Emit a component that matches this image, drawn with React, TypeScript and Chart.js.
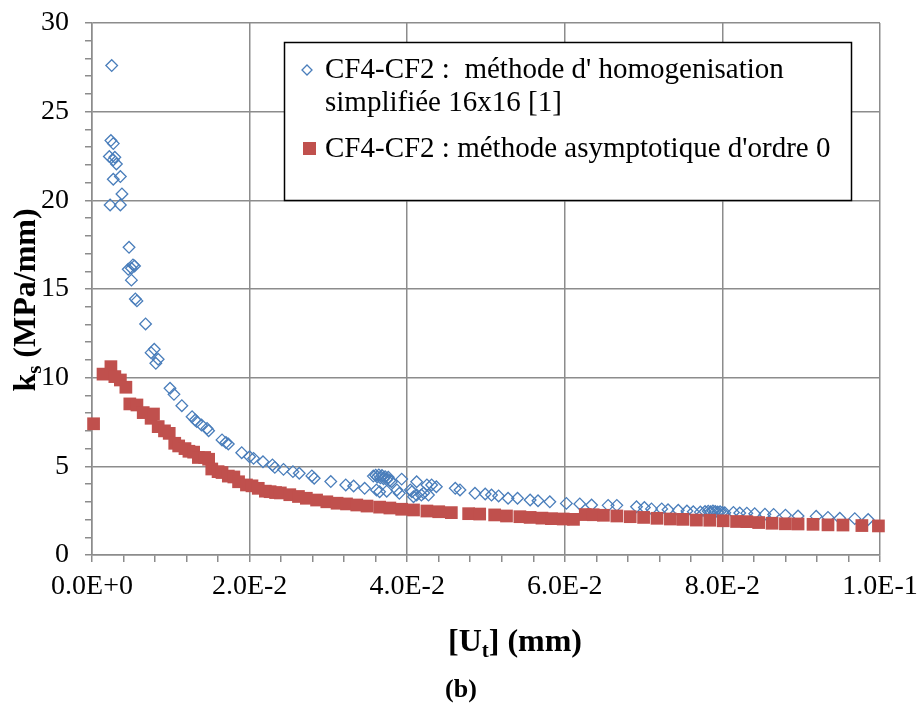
import React, { useEffect, useRef } from "react";
import { Chart, registerables } from "chart.js";

Chart.register(...registerables);

// Série 1 : méthode d'homogénisation simplifiée 16x16 (losanges bleus)
const homogX = [
  0.0023, 0.0022, 0.0024, 0.0025, 0.0027, 0.0027, 0.0027, 0.0029, 0.0031, 0.0036, 0.0036, 0.0038,
  0.0046, 0.0047, 0.0050, 0.0050, 0.0052, 0.0054, 0.0055, 0.0057, 0.0068, 0.0075, 0.0079, 0.0081,
  0.0084, 0.0099, 0.0104, 0.0114, 0.0127, 0.0131, 0.0133, 0.0139, 0.0146, 0.0148, 0.0165, 0.0170,
  0.0173, 0.0190, 0.0200, 0.0205, 0.0217, 0.0229, 0.0232, 0.0243, 0.0255, 0.0263, 0.0279, 0.0282,
  0.0303, 0.0322, 0.0332, 0.0346, 0.0361, 0.0357, 0.0360, 0.0362, 0.0364, 0.0366, 0.0368, 0.0370,
  0.0372, 0.0374, 0.0376, 0.0378, 0.0365, 0.0374, 0.0380, 0.0387, 0.0390, 0.0393, 0.0404, 0.0406,
  0.0408, 0.0412, 0.0412, 0.0418, 0.0421, 0.0425, 0.0427, 0.0431, 0.0437, 0.0461, 0.0467, 0.0486,
  0.0499, 0.0507, 0.0516, 0.0528, 0.0540, 0.0556, 0.0566, 0.0581, 0.0602, 0.0619, 0.0634, 0.0655,
  0.0666, 0.0691, 0.0701, 0.0710, 0.0723, 0.0731, 0.0744, 0.0755, 0.0763, 0.0772, 0.0778, 0.0782,
  0.0785, 0.0788, 0.0791, 0.0794, 0.0797, 0.0800, 0.0803, 0.0814, 0.0822, 0.0831, 0.0841, 0.0854,
  0.0865, 0.0880, 0.0896, 0.0919, 0.0934, 0.0949, 0.0968, 0.0985,
];
const homogY = [
  19.74, 22.47, 23.37, 27.6, 23.2, 22.28, 21.19, 22.43, 22.05, 21.34, 19.74, 20.36,
  16.11, 17.35, 16.17, 15.5, 16.36, 16.3, 14.44, 14.33, 13.03, 11.41, 11.6, 10.81,
  11.04, 9.4, 9.06, 8.42, 7.8, 7.61, 7.52, 7.33, 7.14, 7.01, 6.49, 6.34,
  6.26, 5.77, 5.54, 5.45, 5.26, 5.08, 4.94, 4.83, 4.7, 4.61, 4.46, 4.33,
  4.14, 3.95, 3.89, 3.76, 3.67, 4.45, 4.5, 4.4, 4.52, 4.35, 4.48, 4.3,
  4.42, 4.25, 4.38, 4.2, 3.57, 3.6, 4.13, 3.67, 3.48, 4.28, 3.67, 3.57,
  3.29, 4.13, 3.38, 3.38, 3.5, 3.95, 3.38, 3.95, 3.85, 3.76, 3.67, 3.48,
  3.44, 3.38, 3.33, 3.2, 3.2, 3.1, 3.06, 3.0, 2.91, 2.88, 2.82, 2.8,
  2.8, 2.72, 2.68, 2.6, 2.6, 2.55, 2.52, 2.48, 2.44, 2.42, 2.45, 2.47,
  2.44, 2.48, 2.45, 2.42, 2.44, 2.4, 2.38, 2.4, 2.37, 2.36, 2.33, 2.3,
  2.29, 2.25, 2.2, 2.18, 2.12, 2.07, 2.05, 2.0,
];

// Série 2 : méthode asymptotique d'ordre 0 (carrés rouges)
const asympX = [
  0.0002, 0.0014, 0.0024, 0.0029, 0.0036, 0.0043, 0.0048, 0.0057, 0.0065, 0.0075, 0.0078, 0.0084,
  0.0092, 0.0098, 0.0105, 0.0110, 0.0118, 0.0123, 0.0129, 0.0135, 0.0143, 0.0148, 0.0152, 0.0160,
  0.0165, 0.0173, 0.0180, 0.0186, 0.0196, 0.0203, 0.0211, 0.0220, 0.0226, 0.0233, 0.0239, 0.0251,
  0.0262, 0.0272, 0.0285, 0.0298, 0.0311, 0.0323, 0.0336, 0.0349, 0.0365, 0.0378, 0.0393, 0.0408,
  0.0425, 0.0440, 0.0456, 0.0478, 0.0492, 0.0511, 0.0526, 0.0543, 0.0556, 0.0571, 0.0583, 0.0598,
  0.0611, 0.0626, 0.0636, 0.0649, 0.0666, 0.0683, 0.0700, 0.0717, 0.0734, 0.0750, 0.0767, 0.0784,
  0.0801, 0.0818, 0.0831, 0.0846, 0.0863, 0.0880, 0.0896, 0.0915, 0.0934, 0.0953, 0.0977, 0.0998,
];
const asympY = [
  7.4, 10.2, 10.62, 10.06, 9.87, 9.46, 8.52, 8.46, 8.03, 7.71, 7.95, 7.24,
  7.0, 6.86, 6.3, 6.15, 6.0, 5.85, 5.8, 5.5, 5.5, 5.4, 4.85, 4.7,
  4.65, 4.45, 4.4, 4.13, 3.95, 3.9, 3.76, 3.6, 3.57, 3.52, 3.5, 3.4,
  3.3, 3.2, 3.1, 3.0, 2.92, 2.88, 2.82, 2.76, 2.7, 2.65, 2.58, 2.54,
  2.48, 2.44, 2.39, 2.33, 2.31, 2.26, 2.2, 2.16, 2.12, 2.08, 2.05, 2.03,
  2.01, 2.28, 2.27, 2.24, 2.2, 2.16, 2.12, 2.07, 2.03, 2.01, 1.97, 1.96,
  1.93, 1.89, 1.88, 1.83, 1.79, 1.76, 1.75, 1.73, 1.7, 1.69, 1.66, 1.64,
];

const xTickLabels = ["0.0E+0", "2.0E-2", "4.0E-2", "6.0E-2", "8.0E-2", "1.0E-1"];
const yTickLabels = ["0", "5", "10", "15", "20", "25", "30"];
const homogLegend = ["CF4-CF2 :  méthode d' homogenisation", "simplifiée 16x16 [1]"];
const asympLegend = ["CF4-CF2 : méthode asymptotique d'ordre 0"];
const yTitleParts = ["k", "s", " (MPa/mm)"];
const xTitleParts = ["[U", "t", "] (mm)"];
const caption = "(b)";

const BLUE = "#4a7ebb";
const RED = "#c0504d";
const GRID = "#8c8c8c";
const SERIF = '"Liberation Serif", "Times New Roman", serif';

const decorPlugin = {
  id: "decor",
  afterDraw(chart: any) {
    const ctx: CanvasRenderingContext2D = chart.ctx;
    ctx.save();
    // Legend box
    const lx = 284, ly = 42, lw = 567, lh = 158;
    ctx.fillStyle = "#ffffff";
    ctx.fillRect(lx, ly, lw, lh);
    ctx.strokeStyle = "#000000";
    ctx.lineWidth = 1.5;
    ctx.strokeRect(lx + 0.5, ly + 0.5, lw, lh);
    // diamond marker
    ctx.strokeStyle = BLUE;
    ctx.lineWidth = 1.3;
    ctx.beginPath();
    ctx.moveTo(307, 65);
    ctx.lineTo(312, 70);
    ctx.lineTo(307, 75);
    ctx.lineTo(302, 70);
    ctx.closePath();
    ctx.stroke();
    // square marker
    ctx.fillStyle = RED;
    ctx.fillRect(303, 142, 13, 13);
    ctx.fillStyle = "#000000";
    ctx.font = `29px ${SERIF}`;
    ctx.textAlign = "left";
    ctx.textBaseline = "middle";
    ctx.fillText(homogLegend[0], 325, 70);
    ctx.fillText(homogLegend[1], 325, 103);
    ctx.fillText(asympLegend[0], 325, 149);

    // Y title (rotated)
    ctx.save();
    ctx.translate(24, 300);
    ctx.rotate(-Math.PI / 2);
    const big = `bold 32px ${SERIF}`;
    const small = `bold 21px ${SERIF}`;
    ctx.font = big;
    const w0 = ctx.measureText(yTitleParts[0]).width;
    const w2 = ctx.measureText(yTitleParts[2]).width;
    ctx.font = small;
    const w1 = ctx.measureText(yTitleParts[1]).width;
    let x = -(w0 + w1 + w2) / 2;
    ctx.textAlign = "left";
    ctx.textBaseline = "alphabetic";
    ctx.font = big;
    ctx.fillText(yTitleParts[0], x, 11);
    x += w0;
    ctx.font = small;
    ctx.fillText(yTitleParts[1], x, 17);
    x += w1;
    ctx.font = big;
    ctx.fillText(yTitleParts[2], x, 11);
    ctx.restore();

    // X title
    ctx.font = big;
    const a0 = ctx.measureText(xTitleParts[0]).width;
    const a2 = ctx.measureText(xTitleParts[2]).width;
    ctx.font = small;
    const a1 = ctx.measureText(xTitleParts[1]).width;
    let xx = 515 - (a0 + a1 + a2) / 2;
    ctx.textAlign = "left";
    ctx.textBaseline = "alphabetic";
    ctx.font = big;
    ctx.fillText(xTitleParts[0], xx, 651);
    xx += a0;
    ctx.font = small;
    ctx.fillText(xTitleParts[1], xx, 657);
    xx += a1;
    ctx.font = big;
    ctx.fillText(xTitleParts[2], xx, 651);

    // caption
    ctx.font = `bold 26px ${SERIF}`;
    ctx.textAlign = "center";
    ctx.textBaseline = "middle";
    ctx.fillText(caption, 461, 690);
    ctx.restore();
  },
};

export default function App() {
  const canvasRef = useRef<HTMLCanvasElement | null>(null);

  useEffect(() => {
    if (!canvasRef.current) return;
    const homogData = homogX.map((x, i) => ({ x, y: homogY[i] }));
    const asympData = asympX.map((x, i) => ({ x, y: asympY[i] }));
    const chart = new Chart(canvasRef.current, {
      type: "scatter",
      data: {
        datasets: [
          {
            label: asympLegend[0],
            data: asympData,
            pointStyle: "rect",
            pointRadius: 9,
            pointHoverRadius: 9,
            backgroundColor: RED,
            borderColor: RED,
            borderWidth: 0,
            showLine: false,
            clip: false,
          },
          {
            label: homogLegend.join(" "),
            data: homogData,
            pointStyle: "rectRot",
            pointRadius: 5.8,
            pointHoverRadius: 5.8,
            backgroundColor: "rgba(0,0,0,0)",
            borderColor: BLUE,
            borderWidth: 1.3,
            showLine: false,
            clip: false,
          },
        ],
      },
      options: {
        responsive: false,
        animation: false,
        events: [],
        layout: { padding: { top: 23, right: 41, left: 0, bottom: 0 } },
        plugins: {
          legend: { display: false },
          tooltip: { enabled: false },
          title: { display: false },
        },
        scales: {
          x: {
            type: "linear",
            min: 0,
            max: 0.1,
            afterFit: (s: any) => {
              s.height = 165;
              s.paddingLeft = 0;
              s.paddingRight = 0;
            },
            ticks: {
              stepSize: 0.004,
              autoSkip: false,
              maxRotation: 0,
              padding: 8,
              color: "#000",
              font: { family: SERIF, size: 28 },
              callback: (_v: any, i: number) => (i % 5 === 0 ? xTickLabels[i / 5] : ""),
            },
            grid: {
              color: (c: any) => (c.index % 5 === 0 ? GRID : "rgba(0,0,0,0)"),
              tickColor: GRID,
              tickLength: 7,
              lineWidth: 1.5,
            },
            border: { color: GRID, width: 1.5 },
          },
          y: {
            type: "linear",
            min: 0,
            max: 30,
            afterFit: (s: any) => {
              s.width = 92;
              s.paddingTop = 0;
              s.paddingBottom = 0;
            },
            ticks: {
              stepSize: 1,
              autoSkip: false,
              padding: 16,
              color: "#000",
              font: { family: SERIF, size: 28 },
              callback: (v: any) => (Number(v) % 5 === 0 ? yTickLabels[Number(v) / 5] : ""),
            },
            grid: {
              color: (c: any) => (c.index % 5 === 0 ? GRID : "rgba(0,0,0,0)"),
              tickColor: GRID,
              tickLength: 7,
              lineWidth: 1.5,
            },
            border: { color: GRID, width: 1.5 },
          },
        },
      },
      plugins: [decorPlugin],
    } as any);
    return () => chart.destroy();
  }, []);

  return (
    <div style={{ position: "absolute", left: 0, top: 0, width: 921, height: 720, background: "#fff" }}>
      <canvas ref={canvasRef} width={921} height={720} style={{ display: "block" }} />
    </div>
  );
}
